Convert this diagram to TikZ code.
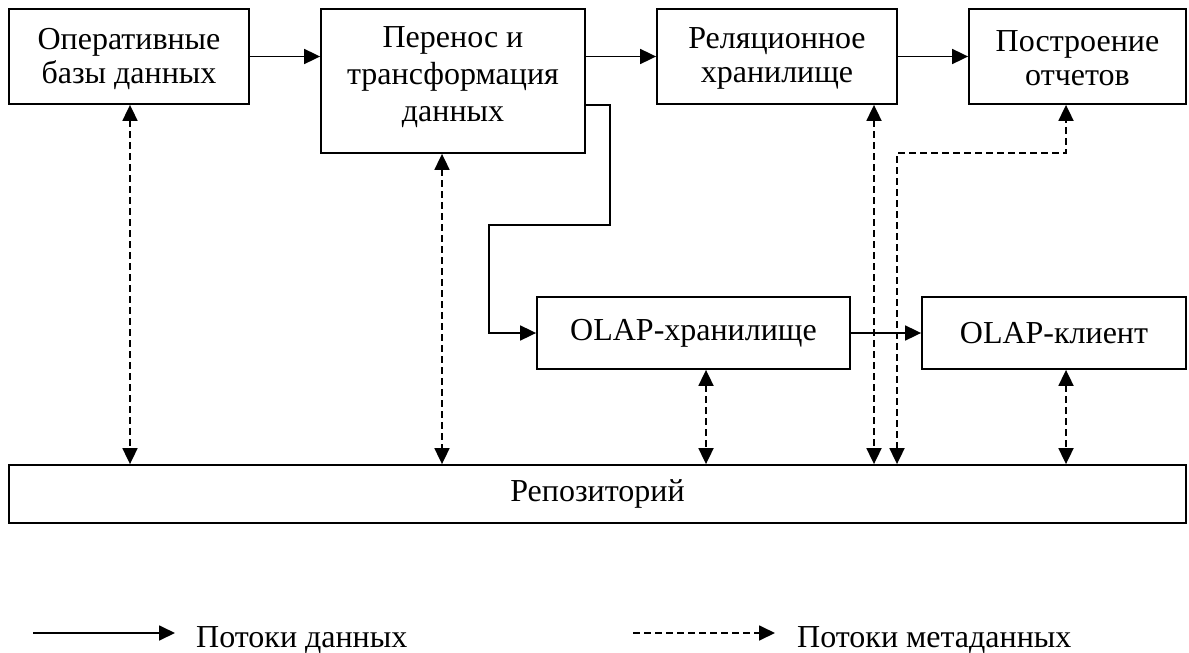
\documentclass[tikz,border=0pt]{standalone}
\usepackage{fontspec}
\setmainfont{Liberation Serif}
\usetikzlibrary{arrows.meta,calc}
\begin{document}
\begin{tikzpicture}[x=1pt,y=-1pt,
  box/.style={draw,line width=1.8pt,rectangle,inner sep=0pt,align=center,
    font=\fontsize{32}{34}\selectfont},
  flow/.style={line width=1.8pt,-{Triangle[length=16pt,width=15pt]}},
  meta/.style={line width=1.8pt,dash pattern=on 6.5pt off 4.5pt,
    {Triangle[length=16pt,width=15pt]}-{Triangle[length=16pt,width=15pt]}},
  metaone/.style={line width=1.8pt,dash pattern=on 6.5pt off 4.5pt,
    -{Triangle[length=16pt,width=15pt]}},
  lbl/.style={inner sep=0pt,anchor=base west,font=\fontsize{32}{35}\selectfont},
  txt/.style={inner sep=0pt,align=center,font=\fontsize{32}{34}\selectfont}]
\useasboundingbox (0,0) rectangle (1189,653);
\fill[white] (0,0) rectangle (1189,653);

\node[box,minimum width=240pt,minimum height=95pt] (b1) at (129,56.5) {};
\node[txt] (b1t) at (129,58.5) {Оперативные\\базы данных};
\node[box,minimum width=264pt,minimum height=144pt] (b2) at (453,81) {};
\node[inner sep=0pt,align=center,font=\fontsize{32}{37}\selectfont] (b2t) at (453,77) {Перенос и\\трансформация\\данных};
\node[box,minimum width=240pt,minimum height=95pt] (b3) at (777,56.5) {};
\node[txt] (b3t) at (777,58.5) {Реляционное\\хранилище};
\node[box,minimum width=217pt,minimum height=95pt] (b4) at (1077.5,56.5) {};
\node[txt] (b4t) at (1077.5,58.5) {Построение\\отчетов};
\node[box,minimum width=313pt,minimum height=72pt] (olap) at (693.5,333) {OLAP-хранилище};
\node[box,minimum width=264pt,minimum height=72pt] (cli) at (1054,333) {OLAP-клиент};
\node[box,minimum width=1177pt,minimum height=58pt] (repo) at (597.5,494) {Репозиторий};

% data flows
\coordinate (t1) at (610,105);
\coordinate (t2) at (610,225);
\coordinate (t3) at (489,225);
\draw[flow] (b1.east) -- (b1.east -| b2.west);
\draw[flow] (b3.west -| b2.east) -- (b3.west);
\draw[flow] (b3.east) -- (b4.west);
\draw[flow] (b2.east |- t1) -- (t1) -- (t2) -- (t3) -- (t3 |- olap.west) -- (olap.west);

% metadata flows
\coordinate (d1) at (130,0);
\coordinate (d2) at (442,0);
\coordinate (d3) at (706,0);
\coordinate (d4) at (874,0);
\coordinate (d5) at (897,153);
\coordinate (d6) at (1066,153);
\coordinate (d7) at (1066,0);
\draw[meta] (b1.south -| d1) -- (repo.north -| d1);
\draw[meta] (b2.south -| d2) -- (repo.north -| d2);
\draw[meta] (olap.south -| d3) -- (repo.north -| d3);
\draw[meta] (b3.south -| d4) -- (repo.north -| d4);
\draw[meta] (repo.north -| d5) -- (d5) -- (d6) -- (b4.south -| d6);
\draw[meta] (cli.south -| d7) -- (repo.north -| d7);

\draw[flow] (olap.east) -- (cli.west);

% legend
\coordinate (la) at (33,633);
\coordinate (lb) at (175,633);
\coordinate (lc) at (633,633);
\coordinate (ld) at (775,633);
\draw[flow] (la) -- (lb);
\node[lbl] (lt1) at (196,647) {Потоки данных};
\draw[metaone] (lc) -- (ld);
\node[lbl] (lt2) at (797,647) {Потоки метаданных};
\end{tikzpicture}
\end{document}
